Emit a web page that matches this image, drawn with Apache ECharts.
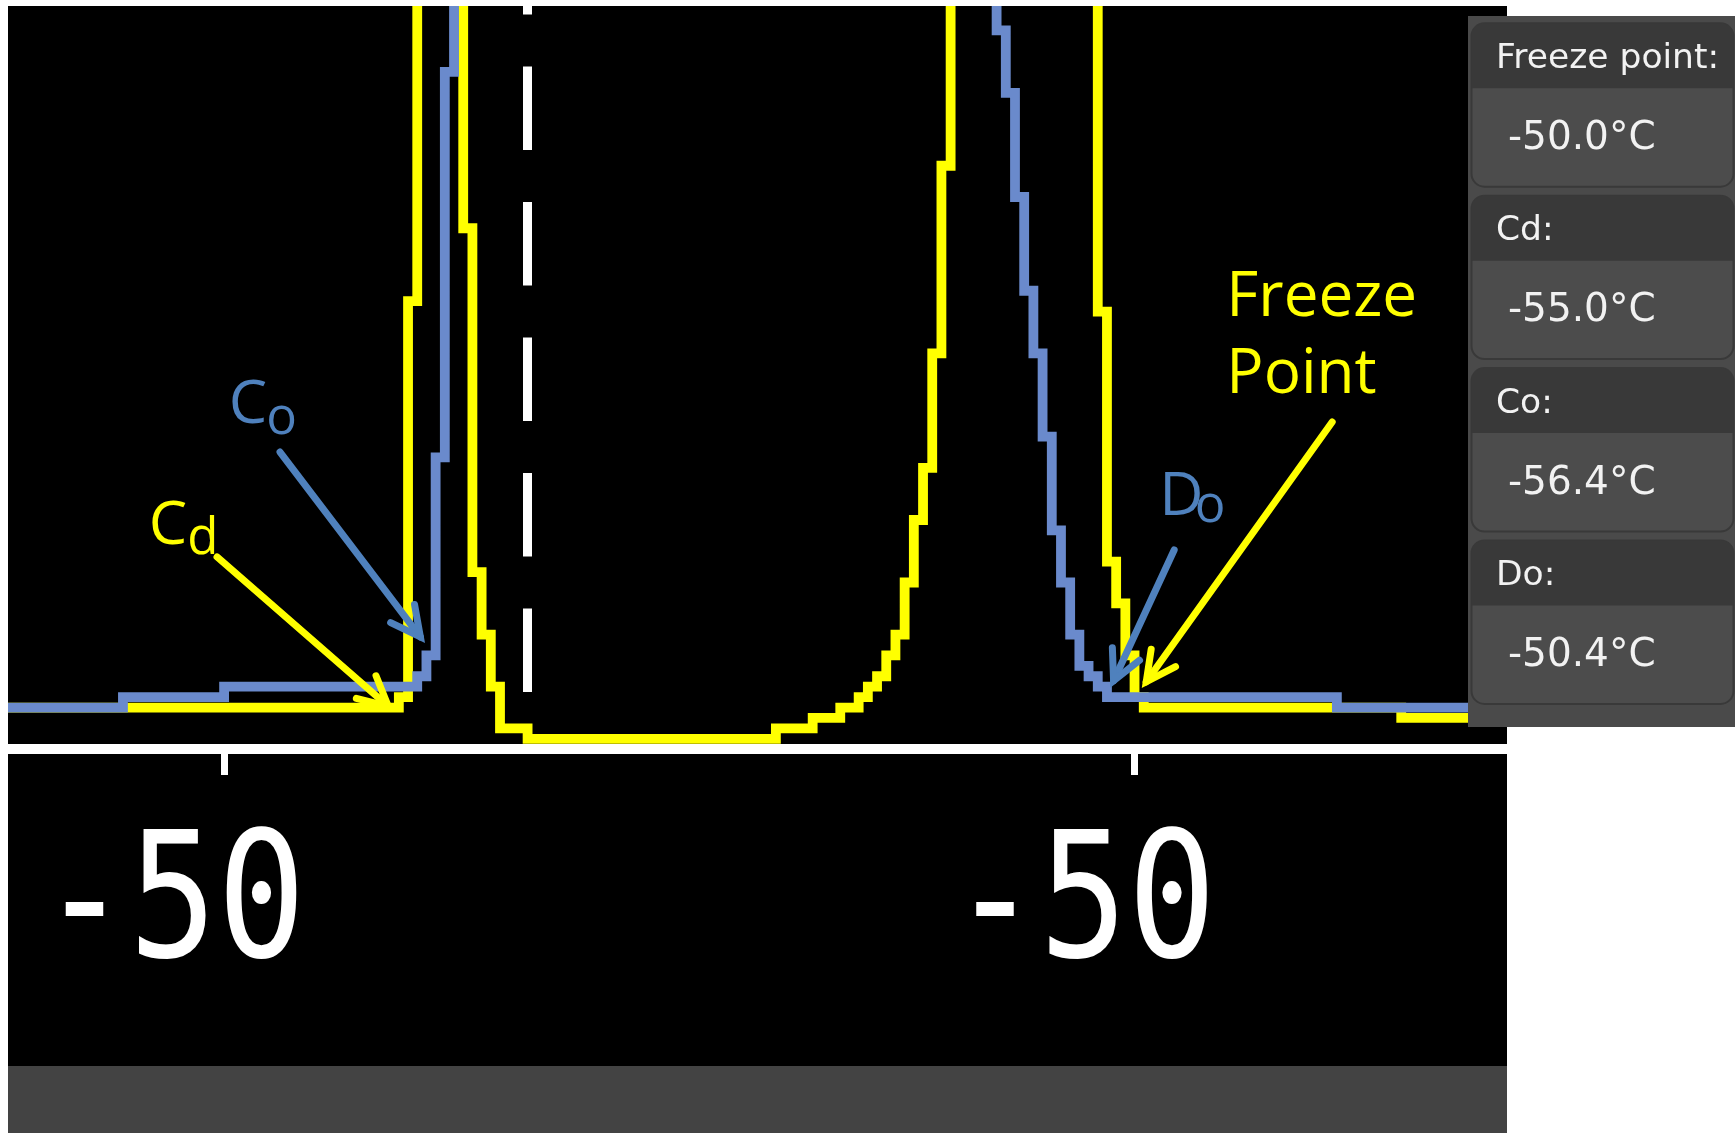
<!DOCTYPE html>
<html>
<head>
<meta charset="utf-8">
<script src="https://cdn.jsdelivr.net/npm/echarts@6/dist/echarts.min.js"></script>
<style>html,body{margin:0;padding:0;background:#fff;}#c{width:1735px;height:1133px;}</style>
</head>
<body>
<div id="c"></div>
<script>
// x = sample column of the instrument's low-res trace display, y = display row level
// (step points: the trace changes level at each listed column)
const yellowCols   = [-0.5, 42, 43, 44, 49, 50, 51, 52, 53, 56, 83, 87, 90, 92, 93, 94, 95, 96, 97, 98, 99, 100, 101, 102, 118, 119, 120, 121, 122, 123, 151, 162.5];
const yellowLevels = [3,    4,  42, 80, 49, 16, 10, 5,  1,  0,  1,  2,  3,  4,  5,  6,  8,  10, 15, 21, 26, 37,  55,  80,  41,  17,  13,  8,   4,   3,   2,   2];
const blueCols     = [-0.5, 12, 23, 44, 45, 46, 47, 48, 107, 108, 109, 110, 111, 112, 113, 114, 115, 116, 117, 118, 119, 144, 162.5];
const blueLevels   = [3,    4,  5,  6,  8,  27, 64, 80, 68,  62,  52,  43,  37,  29,  20,  15,  10,  7,   6,   5,   4,   3,   3];

const xTickValues = [23, 122];
const xTickLabels = ['-50', '-50'];
const markerCol = 56;

const panelLabels = ['Freeze point:', 'Cd:', 'Co:', 'Do:'];
const panelValues = ['-50.0°C', '-55.0°C', '-56.4°C', '-50.4°C'];

// annotation arrows: [fromCol, fromLevel, toCol, toLevel]
const arrowLines = [[29.08, 27.52, 44.80, 9.24], [22.23, 17.45, 41.43, 2.67], [126.31, 18.12, 119.40, 4.97], [143.49, 30.40, 122.83, 4.92]];
const arrowColors = ['#4f81bd', '#ffff00', '#4f81bd', '#ffff00'];
// annotation texts
const noteTexts  = ['C', 'o', 'C', 'd', 'D', 'o', 'Freeze', 'Point'];
const noteAnchor = [[23.50, 31.94], [27.59, 30.68], [14.80, 20.34], [19.0, 19.16], [124.68, 23.18], [128.55, 22.19], [131.98, 42.28], [131.98, 34.84]];
const noteSizes  = [61, 51, 61, 51, 61, 51, 62, 62];
const noteColors = ['#4f81bd', '#4f81bd', '#ffff00', '#ffff00', '#4f81bd', '#4f81bd', '#ffff00', '#ffff00'];

const chart = echarts.init(document.getElementById('c'), null, {renderer: 'canvas'});

const YELLOW = '#ffff00', BLUE = '#6a8acc';

const graphics = [
  {type: 'rect', z: 200, shape: {x: 0, y: 0, width: 1735, height: 6}, style: {fill: '#ffffff'}},
  {type: 'rect', z: -5, shape: {x: 8, y: 754, width: 1499, height: 312}, style: {fill: '#000000'}},
  {type: 'rect', z: -5, shape: {x: 8, y: 1066, width: 1499, height: 67}, style: {fill: '#434343'}},
  {type: 'rect', z: 150, shape: {x: 1468, y: 16, width: 267, height: 711}, style: {fill: '#4a4a4a'}}
];
panelLabels.forEach((lab, i) => {
  const top = 23.3 + i * 172.4;
  graphics.push({type: 'rect', z: 151, shape: {x: 1471.5, y: top, width: 262, height: 163.4, r: 13}, style: {fill: '#4c4c4c', stroke: '#393939', lineWidth: 2}});
  graphics.push({type: 'rect', z: 152, shape: {x: 1471.5, y: top, width: 262, height: 65, r: [13, 13, 0, 0]}, style: {fill: '#393939'}});
  graphics.push({type: 'text', z: 153, x: 1496, y: top + 35.5, style: {text: lab, fontFamily: 'DejaVu Sans', fontSize: 34.5, fill: '#f2f2f2', align: 'left', verticalAlign: 'middle'}});
  graphics.push({type: 'text', z: 153, x: 1508, y: top + 115.5, style: {text: panelValues[i], fontFamily: 'DejaVu Sans', fontSize: 39, fill: '#f2f2f2', align: 'left', verticalAlign: 'middle'}});
});

const option = {
  animation: false,
  backgroundColor: '#ffffff',
  grid: {left: 8, right: 228, top: 6, bottom: 389, show: true, backgroundColor: '#000000', borderWidth: 0},
  xAxis: {
    type: 'value', min: -0.5, max: 162.5, offset: 5, z: 10,
    axisLine: {show: true, onZero: false, lineStyle: {color: '#ffffff', width: 10}},
    axisTick: {show: true, customValues: xTickValues, length: 26, lineStyle: {color: '#ffffff', width: 7}},
    axisLabel: {show: false},
    splitLine: {show: false}
  },
  yAxis: {type: 'value', min: -0.5, max: 70.33, show: false, splitLine: {show: false}},
  graphic: graphics,
  series: [
    {
      name: 'yellow', type: 'line', step: 'end', symbol: 'none', silent: true, z: 2,
      data: yellowCols.map((c, i) => [c, yellowLevels[i]]),
      lineStyle: {color: YELLOW, width: 9.8, join: 'miter', cap: 'butt', miterLimit: 10},
      emphasis: {disabled: true},
      markLine: {
        silent: true, symbol: ['none', 'none'], label: {show: false},
        lineStyle: {color: '#ffffff', width: 9, type: [83.5, 52], dashOffset: 83.5},
        data: [{xAxis: markerCol}]
      }
    },
    {
      name: 'blue', type: 'line', step: 'end', symbol: 'none', silent: true, z: 3,
      data: blueCols.map((c, i) => [c, blueLevels[i]]),
      lineStyle: {color: BLUE, width: 9.8, join: 'miter', cap: 'butt', miterLimit: 10},
      emphasis: {disabled: true}
    },
    {
      name: 'arrows', type: 'custom', silent: true, z: 5,
      encode: {x: [0, 2], y: [1, 3]},
      data: arrowLines,
      renderItem: (params, api) => {
        const p1 = api.coord([api.value(0), api.value(1)]);
        const p2 = api.coord([api.value(2), api.value(3)]);
        const color = arrowColors[params.dataIndex];
        const ang = Math.atan2(p2[1] - p1[1], p2[0] - p1[0]);
        const v = [p2[0] - 7 * Math.cos(ang), p2[1] - 7 * Math.sin(ang)];
        const L = 33, a = 27 * Math.PI / 180;
        const h1 = [v[0] - L * Math.cos(ang - a), v[1] - L * Math.sin(ang - a)];
        const h2 = [v[0] - L * Math.cos(ang + a), v[1] - L * Math.sin(ang + a)];
        return {type: 'group', children: [
          {type: 'line', shape: {x1: p1[0], y1: p1[1], x2: v[0], y2: v[1]}, style: {stroke: color, lineWidth: 7, lineCap: 'round'}},
          {type: 'polyline', shape: {points: [h1, v, h2]}, style: {stroke: color, fill: null, lineWidth: 7, lineCap: 'round', lineJoin: 'miter'}}
        ]};
      }
    },
    {
      name: 'notes', type: 'custom', silent: true, z: 6,
      data: noteAnchor,
      renderItem: (params, api) => {
        const i = params.dataIndex;
        const p = api.coord([api.value(0), api.value(1)]);
        return {type: 'text', x: p[0], y: p[1], style: {text: noteTexts[i], fontFamily: 'Open Sans', fontSize: noteSizes[i], fill: noteColors[i], align: 'left', verticalAlign: 'middle'}};
      }
    },
    {
      name: 'tickLabels', type: 'custom', silent: true, z: 6,
      data: xTickValues.map(v => [v, -0.5]),
      renderItem: (params, api) => {
        const p = api.coord([api.value(0), api.value(1)]);
        return {type: 'text', x: p[0] - 51, y: p[1] + 167.5, scaleX: 0.84,
          style: {text: xTickLabels[params.dataIndex], fontFamily: 'DejaVu Sans Mono', fontSize: 175, fill: '#ffffff', align: 'center', verticalAlign: 'middle'}};
      }
    }
  ]
};
chart.setOption(option);
</script>
</body>
</html>
